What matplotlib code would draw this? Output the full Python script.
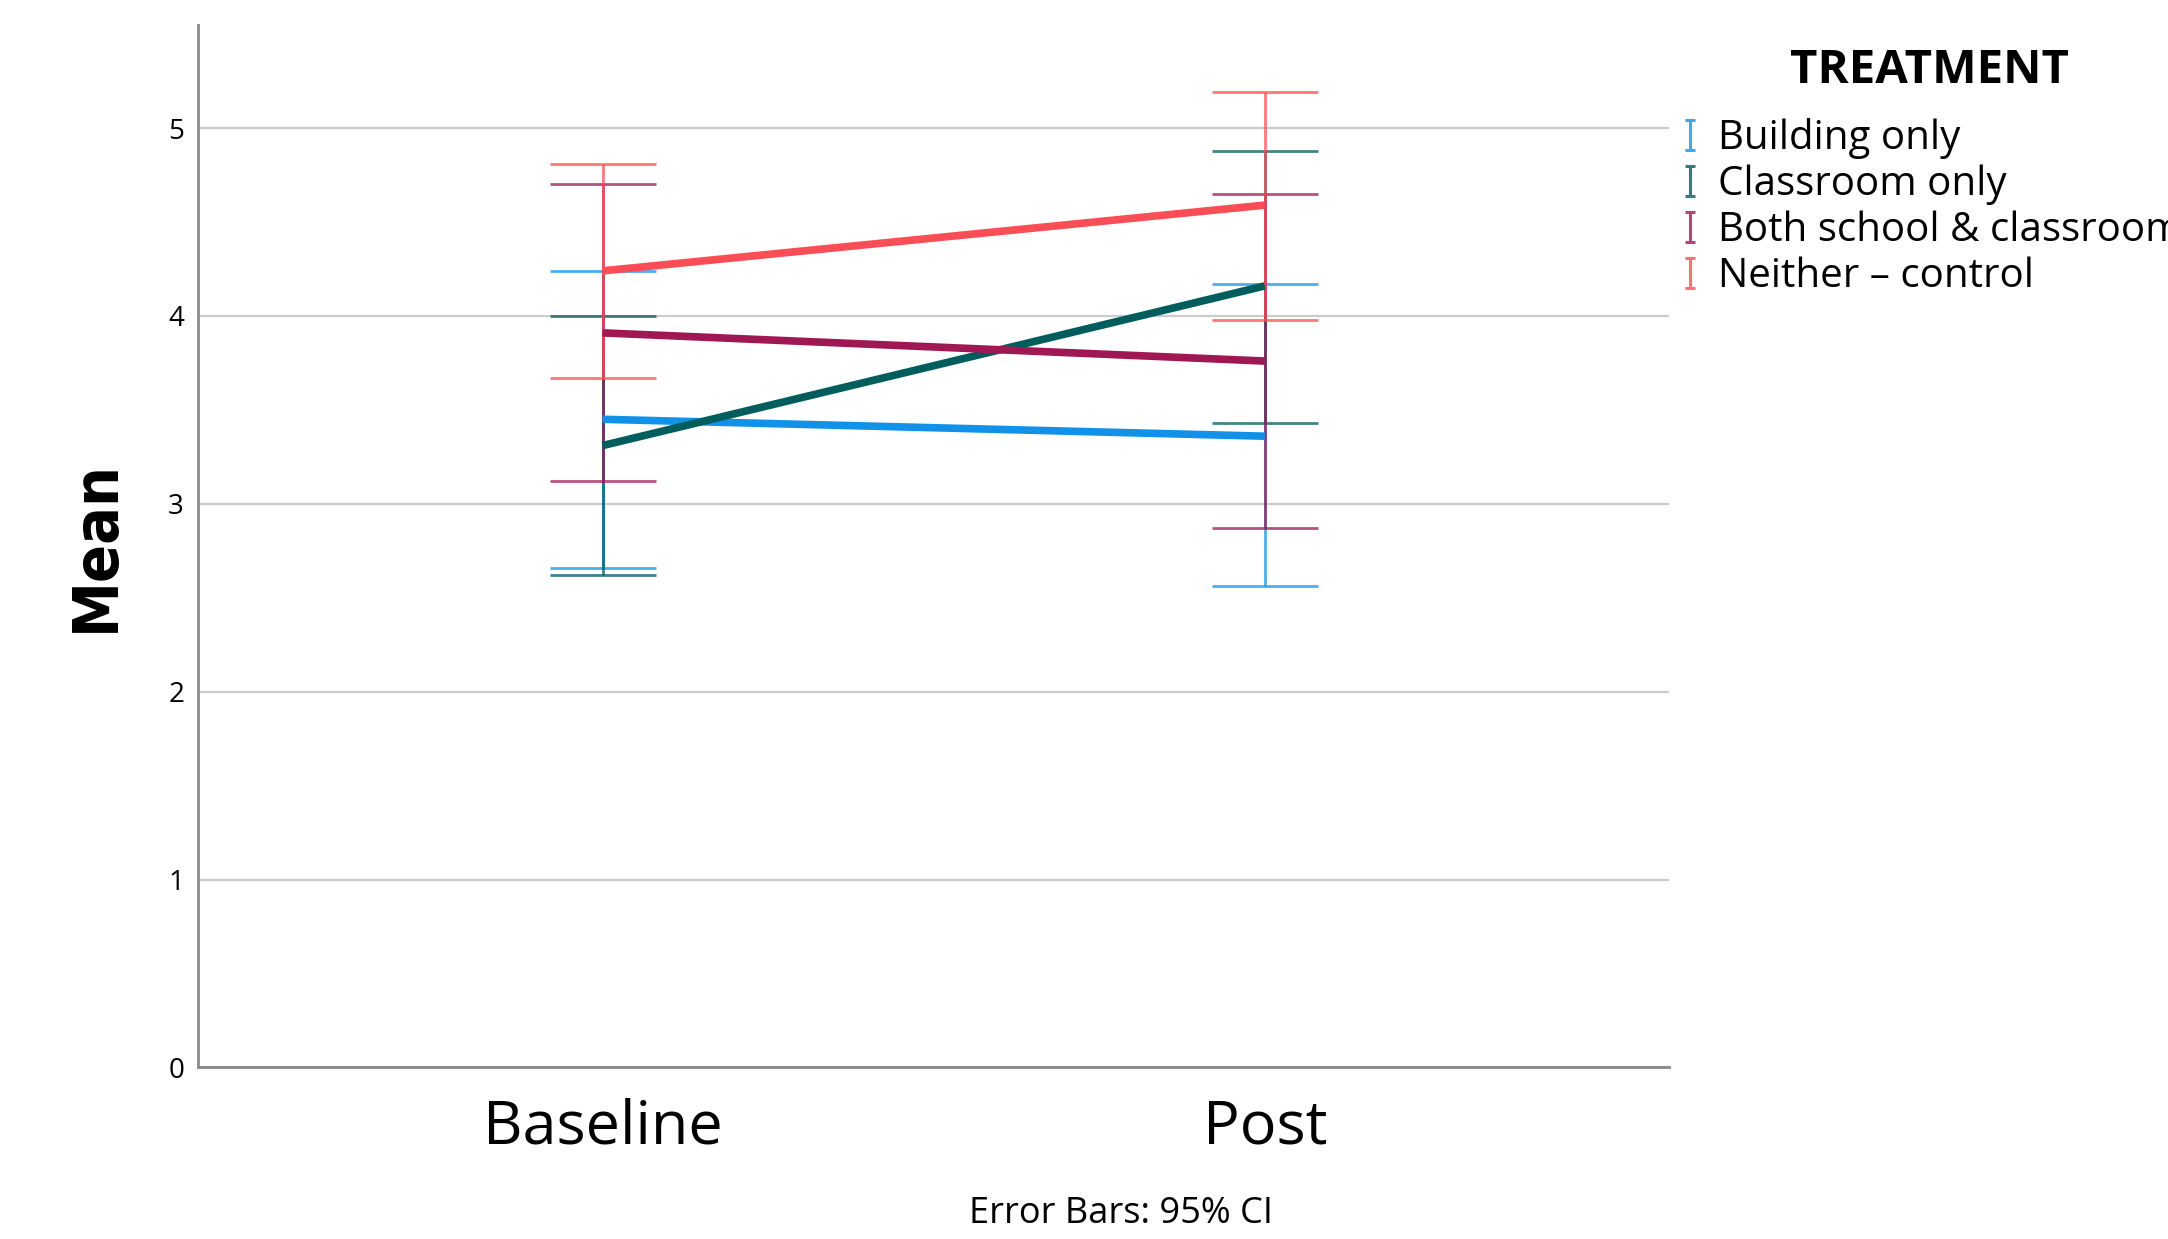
import numpy as np
from matplotlib import pyplot as plt
from matplotlib.lines import Line2D
from matplotlib.path import Path

plt.rcParams['font.family'] = ['Open Sans', 'DejaVu Sans']

# data
times = ["Baseline", "Post"]
groups = ["Building only", "Classroom only", "Both school & classroom", "Neither - control"]
colors = ["#1192e8", "#005d5d", "#9f1853", "#fa4d56"]

means = {
    "Building only": [3.45, 3.36],
    "Classroom only": [3.31, 4.16],
    "Both school & classroom": [3.91, 3.76],
    "Neither - control": [4.24, 4.59],
}
ci_low = {
    "Building only": [2.66, 2.56],
    "Classroom only": [2.62, 3.43],
    "Both school & classroom": [3.12, 2.87],
    "Neither - control": [3.67, 3.98],
}
ci_high = {
    "Building only": [4.24, 4.17],
    "Classroom only": [4.00, 4.88],
    "Both school & classroom": [4.70, 4.65],
    "Neither - control": [4.81, 5.19],
}

fig = plt.figure(figsize=(21.68, 12.39), dpi=100)
ax = fig.add_axes([0.0913, 0.1385, 0.6787, 0.8415])

x = np.arange(len(times))

# error bars first, then the mean lines on top
for g, c in zip(groups, colors):
    m = np.array(means[g])
    lo = m - np.array(ci_low[g])
    hi = np.array(ci_high[g]) - m
    ax.errorbar(x, m, yerr=[lo, hi], fmt='none', ecolor=c, elinewidth=2,
                capsize=38, capthick=2, alpha=0.75, zorder=3)

for g, c in zip(groups, colors):
    ax.plot(x, means[g], color=c, lw=5.5, solid_capstyle='butt', zorder=4)

ax.set_xlim(-0.611, 1.611)
ax.set_ylim(0, 5.55)
ax.set_xticks(x)
ax.set_xticklabels(times, fontsize=44)
ax.set_yticks(range(6))
ax.tick_params(axis='x', length=0, pad=22)
ax.tick_params(axis='y', length=0, labelsize=20, pad=10)

ax.grid(axis='y', color='#cccccc', lw=1.6)
ax.set_axisbelow(True)
for s in ['top', 'right']:
    ax.spines[s].set_visible(False)
for s in ['left', 'bottom']:
    ax.spines[s].set_color('#8a8a8a')
    ax.spines[s].set_linewidth(2)

ax.set_ylabel("Mean", fontsize=45, fontweight='bold', fontstretch='condensed',
              family=['DejaVu Sans'], labelpad=30)

# legend with small I-beam markers
ibeam = Path([(-0.3, -1), (0.3, -1), (0, -1), (0, 1), (-0.3, 1), (0.3, 1)],
             [Path.MOVETO, Path.LINETO, Path.MOVETO, Path.LINETO, Path.MOVETO, Path.LINETO])
handles = [Line2D([], [], ls='none', marker=ibeam, markersize=22, markeredgewidth=2.2,
                  color=c, alpha=0.8) for c in colors]
labels = [g.replace("-", "\u2013") for g in groups]
leg = fig.legend(handles, labels, loc='upper left', bbox_to_anchor=(0.774, 0.905),
                 frameon=False, fontsize=29, handlelength=0.6, handletextpad=0.4,
                 labelspacing=0.14, borderpad=0, borderaxespad=0)
fig.text(0.890, 0.943, "TREATMENT", fontsize=34, fontweight='bold', ha='center', va='center')

fig.text(0.517, 0.020, "Error Bars: 95% CI", fontsize=26, ha='center', va='center')

fig.savefig("out.png", dpi=100)
